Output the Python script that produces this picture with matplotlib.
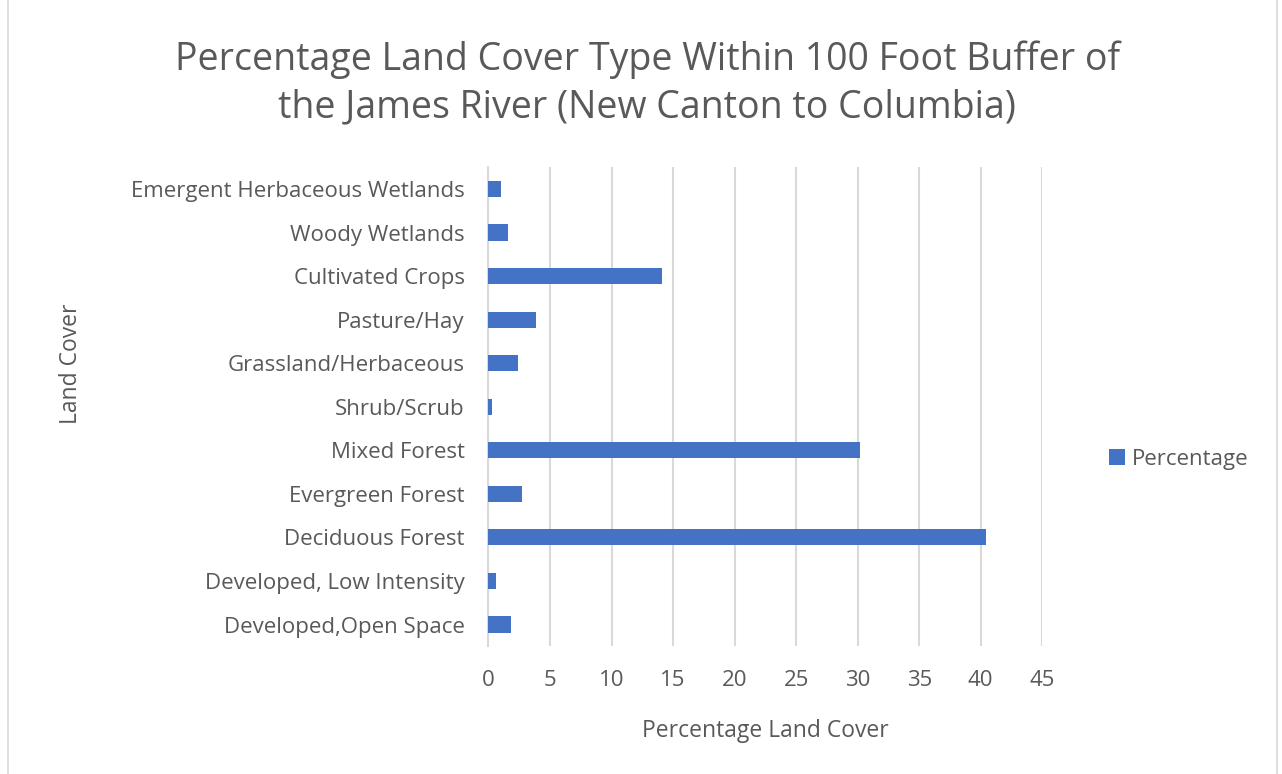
import matplotlib as mpl

mpl.use('Agg')
import matplotlib.pyplot as plt
from matplotlib.patches import Rectangle

categories = [
    "Developed,Open Space",
    "Developed, Low Intensity",
    "Deciduous Forest",
    "Evergreen Forest",
    "Mixed Forest",
    "Shrub/Scrub",
    "Grassland/Herbaceous",
    "Pasture/Hay",
    "Cultivated Crops",
    "Woody Wetlands",
    "Emergent Herbaceous Wetlands",
]
percentage = [1.8, 0.65, 40.4, 2.75, 30.2, 0.25, 2.4, 3.9, 14.1, 1.6, 1.05]
x_ticks = [0, 5, 10, 15, 20, 25, 30, 35, 40, 45]

bar_color = "#4472C4"
text_color = "#595959"
plt.rcParams['font.family'] = ['Open Sans', 'DejaVu Sans']

fig = plt.figure(figsize=(12.82, 7.74), dpi=100)
ax = fig.add_axes([0.381, 0.165, 0.432, 0.619])

y = range(len(categories))
ax.barh(y, percentage, height=0.37, color=bar_color, label="Percentage", zorder=3)

ax.set_xlim(0, 45)
ax.set_ylim(-0.5, len(categories) - 0.5)
ax.set_xticks(x_ticks)
ax.set_xticklabels([str(t) for t in x_ticks])
ax.set_yticks(list(y))
ax.set_yticklabels(categories)
ax.tick_params(axis='both', length=0, labelsize=16, colors=text_color)
ax.tick_params(axis='x', pad=17)
ax.tick_params(axis='y', pad=17)
ax.grid(axis='x', color="#d9d9d9", linewidth=1.5, zorder=0)

for side in ['top', 'right', 'bottom']:
    ax.spines[side].set_visible(False)
ax.spines['left'].set_color("#d9d9d9")
ax.spines['left'].set_linewidth(1.5)

ax.set_xlabel("Percentage Land Cover", fontsize=16.5, color=text_color, labelpad=20)
fig.text(0.055, 0.53, "Land Cover", rotation=90, fontsize=16.5, color=text_color,
         ha='center', va='center')

fig.text(0.505, 0.892, "Percentage Land Cover Type Within 100 Foot Buffer of\nthe James River (New Canton to Columbia)",
         fontsize=27, color=text_color, ha='center', va='center', linespacing=1.32)

ax.legend(loc='center left', bbox_to_anchor=(1.085, 0.39), frameon=False,
          fontsize=16, labelcolor=text_color, handlelength=0.7, handleheight=0.7,
          handletextpad=0.3)

fig.patches.append(Rectangle((0.006, -0.01), 0.99, 1.02, transform=fig.transFigure,
                             fill=False, edgecolor="#d9d9d9", linewidth=1.2))

fig.savefig("out.png", dpi=100, facecolor='white')
